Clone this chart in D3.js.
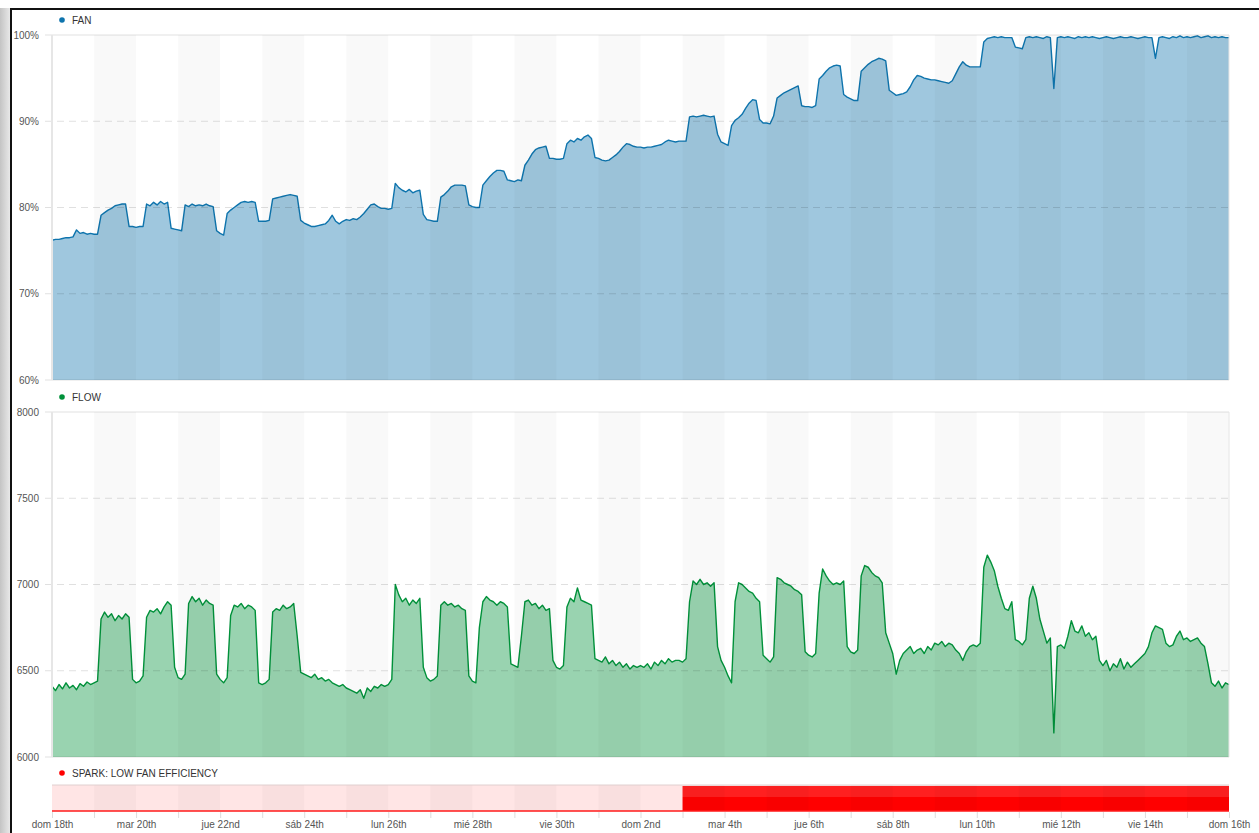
<!DOCTYPE html>
<html>
<head>
<meta charset="utf-8">
<script src="https://cdn.jsdelivr.net/npm/d3@7"></script>
<style>
  body { margin: 0; background: #fff; font-family: "Liberation Sans", Arial, sans-serif; }
  #shadow { position: absolute; left: 0; top: 8px; width: 10px; height: 825px; background: linear-gradient(to right, #c4c4c4, #e8e8e8); }
  #frame { position: absolute; left: 10px; top: 8px; width: 1249px; height: 825px; border-left: 2px solid #111; border-top: 2px solid #111; box-sizing: border-box; }
  svg { position: absolute; left: 0; top: 0; }
</style>
</head>
<body>
<div id="shadow"></div>
<div id="frame"></div>
<script>
const width = 1259;
const height = 833;

// one reading every 2 hours, 18 jun -> 16 jul (12 per day)
const fanValues = [
  76.2, 76.3, 76.3, 76.4, 76.5, 76.5, 76.6, 77.4, 77.0, 77.1, 76.9, 77.0,
  76.9, 76.9, 79.1, 79.4, 79.7, 79.9, 80.2, 80.3, 80.4, 80.4, 77.8, 77.8,
  77.7, 77.8, 77.8, 80.4, 80.2, 80.6, 80.3, 80.7, 80.4, 80.6, 77.6, 77.5,
  77.4, 77.3, 80.3, 80.1, 80.4, 80.2, 80.3, 80.2, 80.4, 80.2, 80.1, 77.3,
  77.0, 76.8, 79.3, 79.7, 80.0, 80.3, 80.6, 80.7, 80.6, 80.7, 80.6, 78.4,
  78.4, 78.4, 78.5, 81.0, 81.1, 81.2, 81.3, 81.4, 81.5, 81.4, 81.3, 78.5,
  78.2, 78.0, 77.8, 77.8, 77.9, 78.0, 78.1, 78.5, 79.1, 78.4, 78.1, 78.4,
  78.6, 78.5, 78.7, 78.6, 78.9, 79.3, 79.8, 80.3, 80.4, 80.1, 79.9, 79.9,
  79.8, 79.9, 82.8, 82.3, 82.0, 81.8, 82.1, 81.7, 81.9, 82.0, 79.2, 78.6,
  78.5, 78.4, 78.4, 81.2, 81.5, 81.9, 82.4, 82.6, 82.6, 82.6, 82.5, 80.3,
  80.1, 80.0, 80.0, 82.6, 83.1, 83.6, 84.0, 84.3, 84.3, 84.2, 83.2, 83.1,
  83.0, 83.2, 83.1, 84.9, 85.5, 86.2, 86.7, 86.9, 87.0, 87.1, 85.7, 85.7,
  85.6, 85.6, 85.7, 87.4, 87.8, 87.6, 88.0, 87.8, 88.2, 88.4, 88.0, 85.8,
  85.7, 85.5, 85.4, 85.5, 85.8, 86.1, 86.5, 87.0, 87.4, 87.3, 87.1, 87.0,
  87.0, 86.9, 87.0, 87.0, 87.1, 87.2, 87.3, 87.6, 87.8, 87.7, 87.6, 87.7,
  87.7, 87.7, 90.5, 90.6, 90.5, 90.6, 90.7, 90.6, 90.5, 90.6, 88.5, 87.6,
  87.4, 87.2, 89.5, 90.1, 90.4, 90.8, 91.5, 92.1, 92.5, 92.4, 90.2, 89.8,
  89.8, 89.7, 90.6, 92.7, 93.0, 93.3, 93.5, 93.7, 93.9, 94.1, 91.8, 91.7,
  91.7, 91.6, 91.8, 94.9, 95.3, 95.8, 96.2, 96.4, 96.5, 96.4, 93.1, 92.8,
  92.6, 92.4, 92.4, 95.8, 96.2, 96.6, 96.9, 97.1, 97.3, 97.2, 97.0, 93.6,
  93.3, 93.0, 93.1, 93.2, 93.4, 94.0, 94.8, 95.3, 95.2, 95.0, 94.9, 94.8,
  94.8, 94.7, 94.6, 94.5, 94.4, 94.7, 95.5, 96.3, 96.9, 96.5, 96.3, 96.3,
  96.3, 96.3, 99.2, 99.6, 99.7, 99.8, 99.7, 99.8, 99.7, 99.7, 99.7, 98.6,
  98.5, 98.4, 99.7, 99.8, 99.7, 99.8, 99.7, 99.6, 99.8, 99.7, 93.8, 99.7,
  99.8, 99.7, 99.8, 99.7, 99.6, 99.8, 99.7, 99.8, 99.7, 99.8, 99.7, 99.6,
  99.7, 99.8, 99.7, 99.6, 99.7, 99.8, 99.7, 99.7, 99.8, 99.7, 99.6, 99.7,
  99.8, 99.7, 99.7, 97.3, 99.7, 99.8, 99.7, 99.6, 99.8, 99.7, 99.9, 99.7,
  99.8, 99.7, 99.8, 99.9, 99.7, 99.8, 99.9, 99.7, 99.8, 99.7, 99.8, 99.7,
  99.7
];

const flowValues = [
  6410, 6385, 6420, 6395, 6430, 6400, 6415, 6390, 6425, 6410, 6435, 6420,
  6430, 6440, 6800, 6840, 6810, 6830, 6790, 6820, 6800, 6830, 6810, 6450,
  6430, 6440, 6470, 6810, 6850, 6840, 6860, 6830, 6870, 6900, 6880, 6520,
  6460, 6450, 6480, 6890, 6930, 6900, 6920, 6880, 6910, 6890, 6880, 6480,
  6450, 6430, 6460, 6820, 6880, 6870, 6890, 6860, 6880, 6870, 6850, 6430,
  6420, 6430, 6450, 6840, 6860, 6850, 6880, 6860, 6870, 6890, 6700, 6490,
  6480, 6470, 6460, 6480, 6450, 6460, 6440, 6450, 6430, 6420, 6410, 6420,
  6400, 6390, 6380, 6370, 6390, 6340, 6400, 6380, 6410, 6400, 6420, 6410,
  6420, 6450, 7000, 6940, 6900, 6920, 6880, 6910, 6890, 6920, 6520, 6460,
  6440, 6450, 6470, 6880, 6900, 6880, 6890, 6870, 6880, 6860, 6850, 6470,
  6440, 6430, 6750, 6900, 6930, 6910, 6900, 6880, 6900, 6890, 6870, 6540,
  6530, 6520, 6700, 6900, 6910, 6880, 6890, 6860, 6880, 6850, 6860, 6560,
  6520, 6510, 6530, 6870, 6920, 6900, 6980, 6910, 6900, 6890, 6880, 6570,
  6560, 6550, 6580, 6540, 6560, 6530, 6550, 6520, 6540, 6510, 6530, 6520,
  6530, 6520, 6540, 6510, 6550, 6530, 6560, 6540, 6570, 6550, 6560, 6560,
  6550, 6570, 6900, 7020, 7000, 7030, 7000, 7010, 6990, 7010, 6640, 6560,
  6520, 6470, 6430, 6900, 7010, 7000, 6980, 6960, 6950, 6920, 6900, 6590,
  6570, 6550, 6580, 7040, 7030, 7010, 7000, 6990, 6970, 6960, 6940, 6610,
  6590, 6580, 6600, 6950, 7090, 7050, 7020, 7000, 7010, 7000, 7020, 6640,
  6610, 6600, 6620, 7050, 7110, 7100, 7070, 7050, 7040, 7010, 6720, 6660,
  6600, 6480, 6560, 6600, 6620, 6640, 6600, 6620, 6630, 6600, 6640, 6620,
  6660, 6650, 6670, 6640, 6660, 6650, 6620, 6600, 6560, 6610, 6640, 6650,
  6640, 6660, 7100, 7170, 7130, 7080, 6990, 6920, 6860, 6850, 6900, 6680,
  6670, 6650, 6680, 6920, 6990, 6920, 6800, 6730, 6660, 6690, 6140, 6640,
  6650, 6630, 6700, 6790, 6730, 6720, 6760, 6700, 6720, 6680, 6700, 6560,
  6530, 6560, 6500, 6540, 6520, 6570, 6510, 6550, 6520, 6540, 6560, 6580,
  6600, 6640, 6720, 6760, 6750, 6740, 6660, 6640, 6650, 6700, 6730, 6680,
  6690, 6670, 6680, 6690, 6660, 6640, 6540, 6430, 6410, 6440, 6400, 6430,
  6420
];

// one value per day, 1 = alarm active
const sparkValues = [0, 0, 0, 0, 0, 0, 0, 0, 0, 0, 0, 0, 0, 0, 0, 1, 1, 1, 1, 1, 1, 1, 1, 1, 1, 1, 1, 1, 1];

const fanTicks = [60, 70, 80, 90, 100];
const flowTicks = [6000, 6500, 7000, 7500, 8000];
const dayLabels = ['dom 18th', 'mar 20th', 'jue 22nd', 'sáb 24th', 'lun 26th', 'mié 28th', 'vie 30th', 'dom 2nd',
  'mar 4th', 'jue 6th', 'sáb 8th', 'lun 10th', 'mié 12th', 'vie 14th', 'dom 16th'];

const start = new Date(2017, 5, 18);
const end = new Date(2017, 6, 16);
const left = 52;
const right = 1229;
const bandFill = 'rgba(0,0,0,0.024)';

const svg = d3.select('body').append('svg').attr('width', width).attr('height', height);
const x = d3.scaleTime().domain([start, end]).range([left, right]);
const days = d3.timeDay.range(start, end);

function drawPanel(cfg) {
  const { y, values, ticks, color, format, label, labelY } = cfg;
  const [bottom, top] = y.range();
  const g = svg.append('g');
  const data = values.map((v, i) => ({ t: new Date(2017, 5, 18, i * 2), v }));

  g.append('path')
    .datum(data)
    .attr('fill', color)
    .attr('fill-opacity', 0.4)
    .attr('d', d3.area().x(d => x(d.t)).y0(bottom).y1(d => y(d.v)));

  g.append('path')
    .datum(data)
    .attr('fill', 'none')
    .attr('stroke', color)
    .attr('stroke-width', 1.4)
    .attr('stroke-linejoin', 'round')
    .attr('d', d3.line().x(d => x(d.t)).y(d => y(d.v)));

  // day stripes over everything
  g.selectAll('.band')
    .data(days.filter((_, i) => i % 2 === 1))
    .enter()
    .append('rect')
    .attr('x', d => x(d))
    .attr('width', d => x(d3.timeDay.offset(d, 1)) - x(d))
    .attr('y', top)
    .attr('height', bottom - top)
    .attr('fill', bandFill);

  g.selectAll('.grid')
    .data(ticks)
    .enter()
    .append('line')
    .attr('x1', left - 7)
    .attr('x2', right)
    .attr('y1', d => y(d))
    .attr('y2', d => y(d))
    .attr('stroke', 'rgba(0,0,0,0.12)')
    .attr('stroke-dasharray', (d, i) => (i === 0 || i === ticks.length - 1 ? null : '7,5'));

  g.append('line').attr('x1', left).attr('x2', left).attr('y1', top).attr('y2', bottom)
    .attr('stroke', '#e6e6e6').attr('stroke-width', 2);
  g.append('line').attr('x1', right).attr('x2', right).attr('y1', top).attr('y2', bottom)
    .attr('stroke', '#e6e6e6').attr('stroke-width', 1);

  const axis = g.append('g')
    .attr('transform', `translate(${left},0)`)
    .call(d3.axisLeft(y).tickValues(ticks).tickFormat(format).tickSize(0).tickPadding(13));
  axis.select('.domain').remove();
  axis.selectAll('text').attr('fill', '#555').attr('font-size', 10).attr('font-family', '"Liberation Sans", Arial, sans-serif');

  legend(label, color, labelY);
}

function legend(text, color, yPos) {
  svg.append('circle').attr('cx', 62).attr('cy', yPos).attr('r', 2.8).attr('fill', color);
  svg.append('text').attr('x', 72).attr('y', yPos).attr('dy', '0.35em')
    .attr('font-size', 10).attr('fill', '#333').text(text);
}

drawPanel({
  y: d3.scaleLinear().domain([60, 100]).range([380, 35]),
  values: fanValues, ticks: fanTicks, color: '#0e74ad', format: d => d + '%', label: 'FAN', labelY: 20
});

drawPanel({
  y: d3.scaleLinear().domain([6000, 8000]).range([757, 412]),
  values: flowValues, ticks: flowTicks, color: '#00913a', format: d => d, label: 'FLOW', labelY: 397
});

// spark strip
const ySpark = d3.scaleLinear().domain([0, 1]).range([811, 786]);
const defs = svg.append('defs');
const grad = defs.append('linearGradient').attr('id', 'sparkFill').attr('x1', 0).attr('x2', 0).attr('y1', 0).attr('y2', 1);
grad.append('stop').attr('offset', '45%').attr('stop-color', '#ff2020');
grad.append('stop').attr('offset', '45%').attr('stop-color', '#ff0000');

svg.append('rect').attr('x', left).attr('y', 785).attr('width', right - left).attr('height', 26)
  .attr('fill', 'rgba(255,0,0,0.1)');

const sparkData = sparkValues.map((v, i) => ({ t: d3.timeDay.offset(start, i), v }));
svg.append('path')
  .datum(sparkData)
  .attr('fill', 'url(#sparkFill)')
  .attr('d', d3.area().curve(d3.curveStepAfter).x(d => x(d.t)).y0(ySpark(0)).y1(d => ySpark(d.v)));

svg.selectAll('.sband')
  .data(days.filter((_, i) => i % 2 === 1))
  .enter()
  .append('rect')
  .attr('x', d => x(d))
  .attr('width', d => x(d3.timeDay.offset(d, 1)) - x(d))
  .attr('y', 785)
  .attr('height', 26)
  .attr('fill', bandFill);

svg.append('line').attr('x1', left).attr('x2', right).attr('y1', 785).attr('y2', 785).attr('stroke', '#e0d0d0');
svg.append('line').attr('x1', left).attr('x2', right).attr('y1', 811).attr('y2', 811)
  .attr('stroke', '#ff1a1a').attr('stroke-width', 1.5);

legend('SPARK: LOW FAN EFFICIENCY', '#ff0000', 773);

// time axis
const xAxis = svg.append('g')
  .attr('transform', 'translate(0,812)')
  .call(d3.axisBottom(x)
    .tickValues(days.concat([end]))
    .tickSize(6)
    .tickPadding(3)
    .tickFormat((d, i) => (i % 2 === 0 ? dayLabels[i / 2] : '')));
xAxis.select('.domain').remove();
xAxis.selectAll('line').attr('stroke', '#ddd');
xAxis.selectAll('text').attr('fill', '#555').attr('font-size', 10).attr('font-family', '"Liberation Sans", Arial, sans-serif');
</script>
</body>
</html>
